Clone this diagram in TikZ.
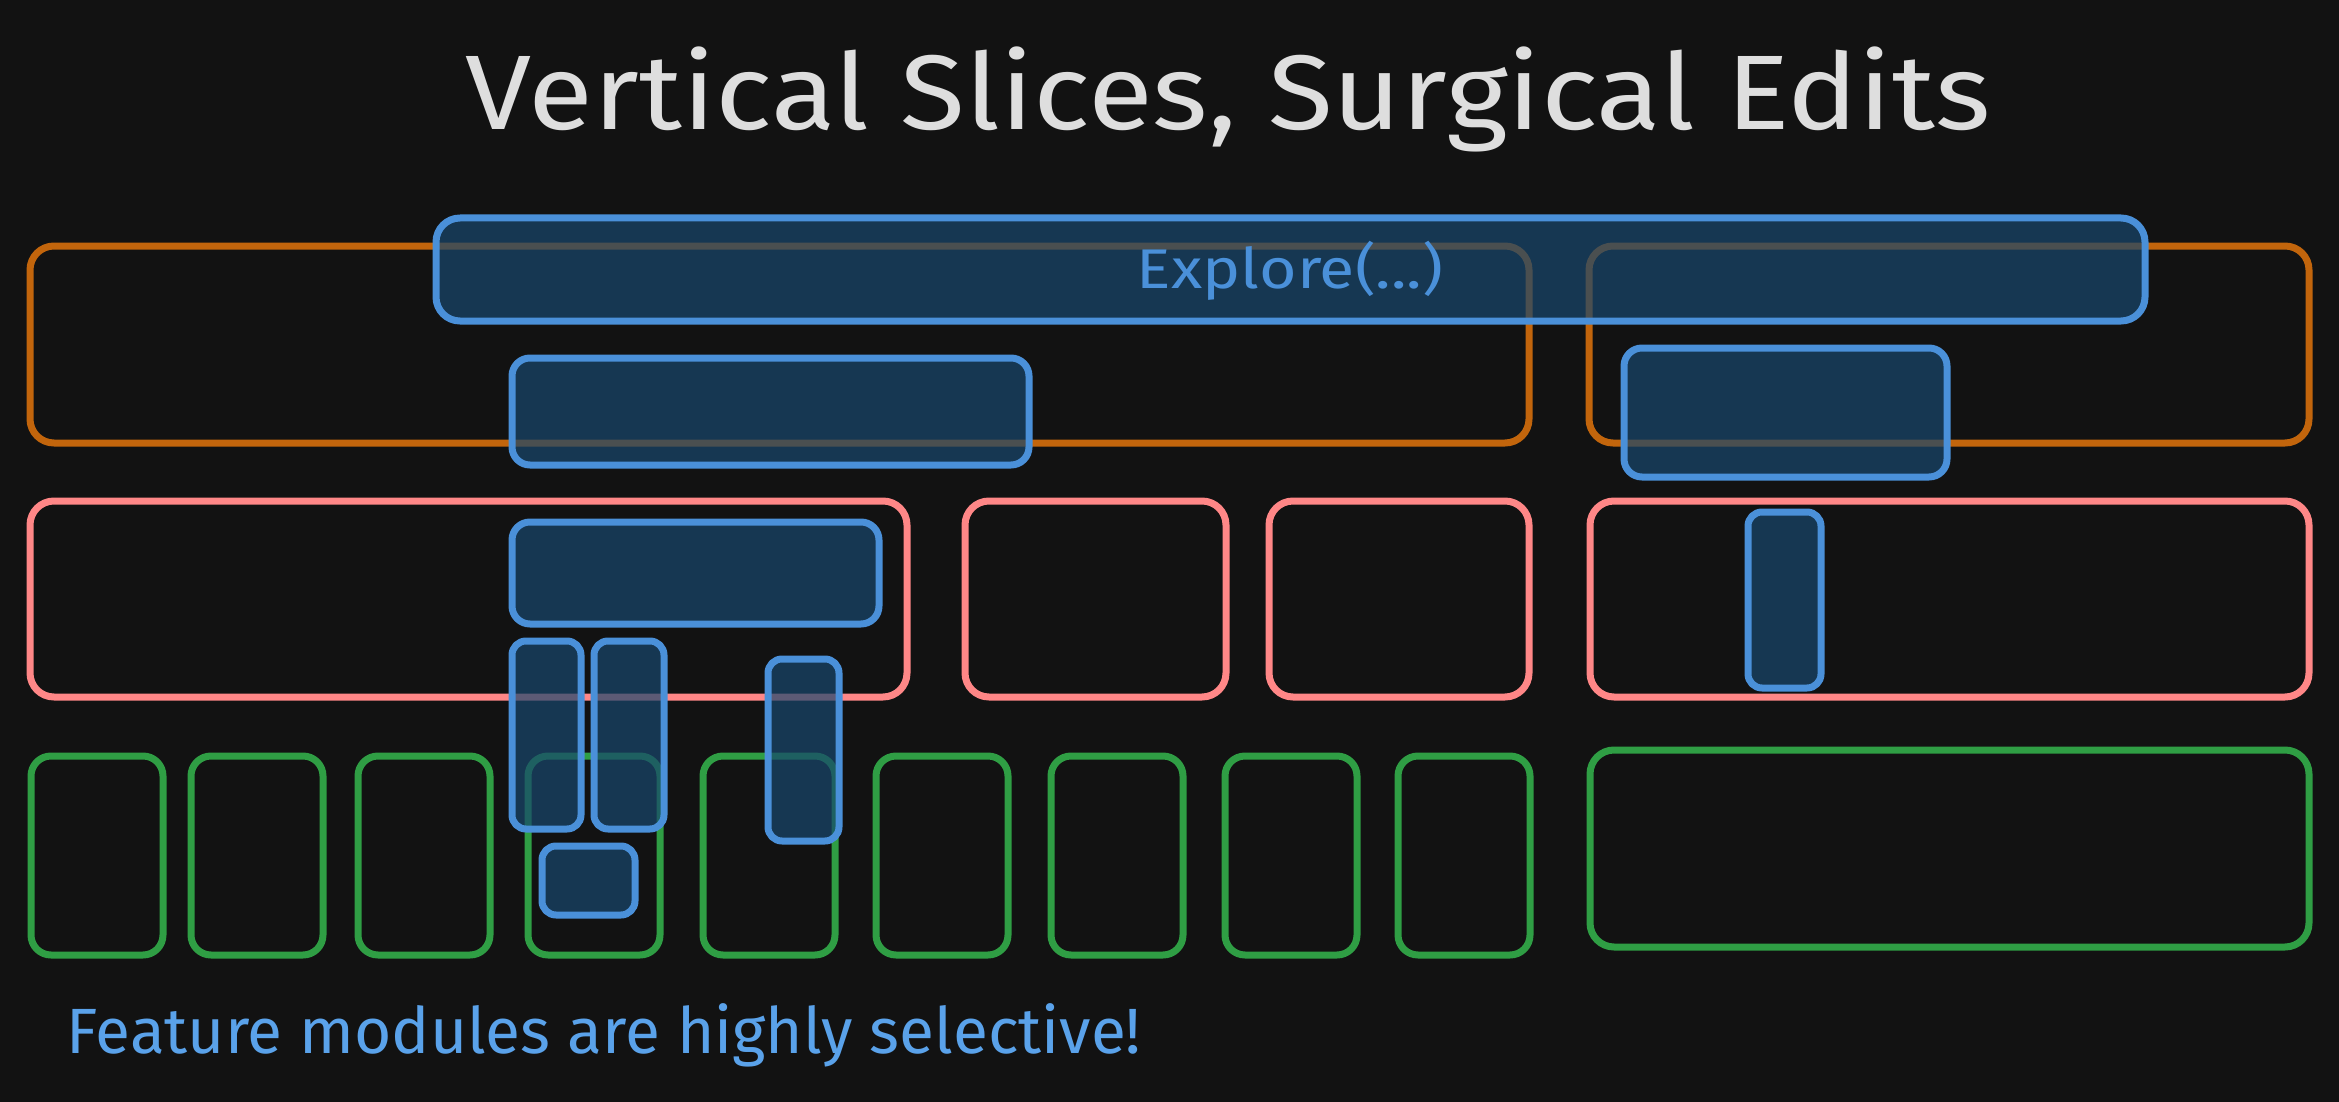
\documentclass[tikz,border=0pt]{standalone}
\usepackage{fontspec}
\setmainfont{Fira Sans}
\usepackage{xcolor}
\usetikzlibrary{calc}

\definecolor{bgdark}{HTML}{121212}
\definecolor{layerorange}{HTML}{C2650C}
\definecolor{layerred}{HTML}{FF8787}
\definecolor{layergreen}{HTML}{2F9E44}
\definecolor{sliceblue}{HTML}{4A90D9}
\definecolor{slicefill}{HTML}{18476E}
\definecolor{titlegrey}{HTML}{DEDEDE}
\definecolor{noteblue}{HTML}{5AA2EA}

\tikzset{
  sketch/.style={line width=7pt, rounded corners=24pt, line join=round},
  corebox/.style={sketch, draw=layerorange},
  layerbox/.style={sketch, draw=layerred},
  modbox/.style={sketch, draw=layergreen},
  slicebox/.style={sketch, draw=sliceblue, fill=slicefill, fill opacity=.7},
  thinslice/.style={slicebox, rounded corners=14pt}
}

\begin{document}
\begin{tikzpicture}[x=1pt, y=-1pt]
\fill[bgdark] (0,0) rectangle (2339,1102);
\useasboundingbox (0,0) rectangle (2339,1102);

% title
\node[anchor=base, text=titlegrey, font=\fontsize{106}{116}\selectfont] (title) at (1228,130) {\scalebox{1.12}[1]{Vertical Slices, Surgical Edits}};

% orange layer
\draw[corebox] (30,246) rectangle (1529,443);
\draw[corebox] (1589,246) rectangle (2309,443);

% red layer
\draw[layerbox] (30,501) rectangle (907,697);
\draw[layerbox] (965,501) rectangle (1226,697);
\draw[layerbox] (1269,501) rectangle (1529,697);
\draw[layerbox] (1590,501) rectangle (2309,697);

% green modules
\foreach \x in {31,191,358,528,703,876,1051,1225,1398}
  \draw[modbox, rounded corners=20pt] (\x,756) rectangle ++(132,199);
\draw[modbox] (1590,750) rectangle (2309,947);

% vertical slices
\draw[slicebox] (436,218) rectangle (2145,321);
\node[anchor=base, text=sliceblue, font=\fontsize{56}{66}\selectfont] (explore) at (1290,288) {\scalebox{1.15}[1]{Explore(...)}};
\draw[slicebox, rounded corners=18pt] (512,358) rectangle (1029,465);
\draw[slicebox, rounded corners=18pt] (1624,348) rectangle (1947,477);
\draw[slicebox, rounded corners=18pt] (512,522) rectangle (879,624);
\draw[thinslice] (1748,512) rectangle (1821,688);
\draw[thinslice] (512,641) rectangle (581,829);
\draw[thinslice] (594,641) rectangle (664,829);
\draw[thinslice] (768,659) rectangle (839,841);
\draw[thinslice] (542,846) rectangle (635,915);

% note
\node[anchor=base west, text=noteblue, font=\fontsize{64}{74}\selectfont] (note) at (63,1053) {Feature modules are highly selective!};
\end{tikzpicture}
\end{document}
